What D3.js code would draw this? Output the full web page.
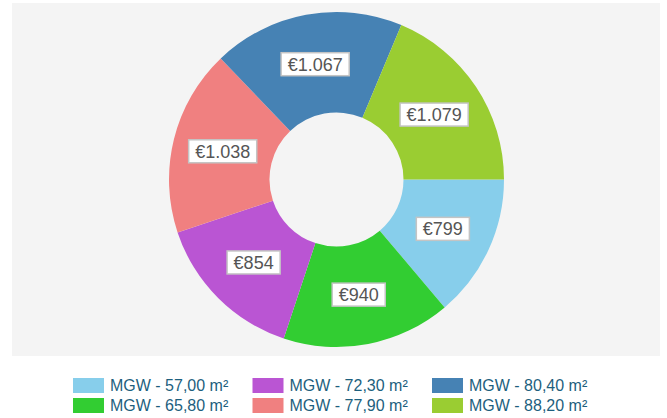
<!DOCTYPE html>
<html>
<head>
<meta charset="utf-8">
<script src="https://cdn.jsdelivr.net/npm/d3@7"></script>
<style>
  body { margin: 0; background: #fff; }
  svg { display: block; font-family: "Liberation Sans", Arial, sans-serif; }
</style>
</head>
<body>
<div id="chart"></div>
<script>
// chart data
const categories = ["MGW - 57,00 m²", "MGW - 65,80 m²", "MGW - 72,30 m²", "MGW - 77,90 m²", "MGW - 80,40 m²", "MGW - 88,20 m²"];
const values = [799, 940, 854, 1038, 1067, 1079];
const valueLabels = ["€799", "€940", "€854", "€1.038", "€1.067", "€1.079"];
const colors = ["#87ceeb", "#32cd32", "#ba55d3", "#f08080", "#4682b4", "#9acd32"];

const width = 667;
const height = 418;

const svg = d3.select('#chart').append('svg')
    .attr('width', width)
    .attr('height', height);

// grey plot background
svg.append('rect')
    .attr('x', 12).attr('y', 3)
    .attr('width', 648).attr('height', 353)
    .attr('fill', '#f4f4f4');

const cx = 336.5, cy = 179.5;
const outerR = 167.5, innerR = 67;

// start at 3 o'clock, clockwise
const pie = d3.pie()
    .sort(null)
    .value(d => d.value)
    .startAngle(Math.PI / 2)
    .endAngle(Math.PI / 2 + 2 * Math.PI);

const arc = d3.arc().innerRadius(innerR).outerRadius(outerR);

const data = values.map((v, i) => ({ value: v, label: valueLabels[i], color: colors[i] }));
const arcs = pie(data);

const g = svg.append('g').attr('transform', `translate(${cx},${cy})`);

g.selectAll('path')
    .data(arcs)
    .join('path')
    .attr('d', arc)
    .attr('fill', d => d.data.color);

// value labels in boxes
const labels = g.selectAll('g.lbl')
    .data(arcs)
    .join('g')
    .attr('class', 'lbl')
    .attr('transform', d => `translate(${arc.centroid(d)})`);

labels.append('rect');
labels.append('text')
    .attr('text-anchor', 'middle')
    .attr('dy', '0.35em')
    .attr('font-size', 18)
    .attr('fill', '#555')
    .text(d => d.data.label);

labels.each(function() {
    const t = d3.select(this).select('text').node().getBBox();
    d3.select(this).select('rect')
        .attr('x', t.x - 6.5)
        .attr('y', -11.5)
        .attr('width', t.width + 13)
        .attr('height', 23)
        .attr('fill', '#fff')
        .attr('stroke', '#c4c4c4')
        .attr('stroke-width', 1.5);
});

// legend: 3 columns x 2 rows
const legendX = d3.scalePoint().domain([0, 1, 2]).range([73, 432]);
const legendY = d3.scalePoint().domain([0, 1]).range([378, 398]);

const legend = svg.append('g').selectAll('g')
    .data(categories)
    .join('g')
    .attr('transform', (d, i) => `translate(${legendX(Math.floor(i / 2))},${legendY(i % 2)})`);

legend.append('rect')
    .attr('width', 31)
    .attr('height', 15)
    .attr('fill', (d, i) => colors[i]);

legend.append('text')
    .attr('x', 37)
    .attr('y', 13)
    .attr('font-size', 16)
    .attr('fill', '#1d5f7e')
    .text(d => d);
</script>
</body>
</html>
